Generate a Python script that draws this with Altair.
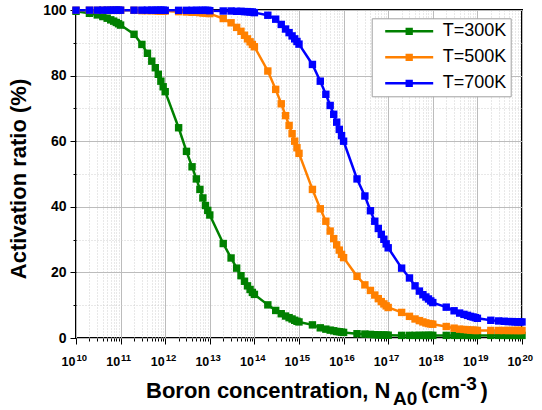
import altair as alt
import pandas as pd

FONT = "Liberation Sans"

# ---------------- data ----------------
MANTISSAS = [1, 2, 3, 4, 5, 6, 7, 8, 9]
DECADES = list(range(10, 20))
LAST_X = 1e20
X_VALUES = [m * 10.0 ** e for e in DECADES for m in MANTISSAS] + [LAST_X]
EXPONENTS = list(range(10, 21))

SERIES = ["T=300K", "T=500K", "T=700K"]
COLORS = ["#008000", "#ff8000", "#0000ff"]

T300 = [
    99.6, 99.0, 98.5, 98.0, 97.5, 97.0, 96.6, 96.2, 95.8,
    95.4, 92.6, 89.5, 86.8, 84.4, 82.4, 80.4, 78.3, 76.6,
    75.1, 64.1, 56.9, 52.2, 48.5, 45.3, 42.7, 40.4, 38.9,
    37.5, 28.8, 24.4, 21.3, 19.0, 17.3, 15.9, 14.8, 13.9,
    13.3, 10.1, 8.4, 7.4, 6.7, 6.2, 5.8, 5.4, 5.1,
    4.9, 4.0, 3.1, 2.7, 2.4, 2.2, 2.0, 1.9, 1.8,
    1.7, 1.3, 1.2, 1.1, 1.0, 0.95, 0.9, 0.9, 0.85,
    0.85, 0.8, 0.8, 0.8, 0.8, 0.8, 0.8, 0.8, 0.8,
    0.8, 0.8, 0.8, 0.8, 0.8, 0.8, 0.8, 0.8, 0.8,
    0.8, 0.8, 0.8, 0.8, 0.8, 0.8, 0.8, 0.8, 0.8,
    0.8,
]
T500 = [
    99.9, 99.9, 99.9, 99.9, 99.9, 99.9, 99.9, 99.9, 99.9,
    99.9, 99.9, 99.8, 99.8, 99.8, 99.8, 99.7, 99.7, 99.7,
    99.7, 99.5, 99.4, 99.3, 99.3, 99.2, 99.1, 99.1, 99.0,
    98.9, 97.4, 96.1, 94.7, 93.5, 92.3, 91.2, 90.3, 89.5,
    88.8, 81.4, 75.8, 71.4, 67.8, 64.8, 62.3, 60.0, 58.0,
    56.3, 45.3, 39.4, 35.6, 32.6, 30.3, 28.4, 26.8, 25.5,
    24.5, 18.8, 16.2, 14.5, 13.1, 12.0, 11.1, 10.4, 9.8,
    9.3, 7.8, 6.6, 5.8, 5.3, 4.9, 4.6, 4.4, 4.3,
    4.2, 3.5, 3.0, 2.7, 2.6, 2.5, 2.4, 2.4, 2.3,
    2.3, 2.3, 2.3, 2.3, 2.3, 2.3, 2.3, 2.3, 2.3,
    2.3,
]
T700 = [
    99.95, 99.95, 99.95, 99.95, 99.95, 99.95, 99.95, 99.95, 99.95,
    99.95, 99.95, 99.95, 99.95, 99.95, 99.95, 99.95, 99.95, 99.95,
    99.9, 99.9, 99.9, 99.9, 99.9, 99.9, 99.9, 99.9, 99.9,
    99.8, 99.7, 99.7, 99.6, 99.6, 99.5, 99.5, 99.4, 99.4,
    99.2, 98.4, 97.2, 95.6, 94.2, 93.1, 92.1, 91.2, 90.4,
    89.6, 83.4, 78.3, 74.3, 70.9, 68.2, 65.8, 63.6, 61.7,
    60.0, 48.5, 43.3, 38.8, 35.6, 33.4, 31.6, 30.1, 28.7,
    27.5, 21.3, 18.3, 15.9, 14.3, 13.2, 12.5, 11.9, 11.3,
    10.8, 9.4, 8.3, 7.6, 7.2, 6.9, 6.6, 6.4, 6.2,
    6.0, 5.4, 5.2, 5.1, 5.0, 5.0, 4.9, 4.9, 4.9,
    4.9,
]

rows = []
for name, vals in zip(SERIES, [T300, T500, T700]):
    for i, (xv, yv) in enumerate(zip(X_VALUES, vals)):
        rows.append({"x": xv, "y": yv, "series": name, "order": i})
df = pd.DataFrame(rows)

lab_df = pd.DataFrame({"x": [10.0 ** e for e in EXPONENTS],
                       "exp": [str(e) for e in EXPONENTS]})
one = pd.DataFrame({"a": [0]})

# ---------------- scales / axes ----------------
W, H = 446, 328
xscale = alt.Scale(type="log", domain=[1e10, 1e20], nice=False)
yscale = alt.Scale(domain=[0, 100], nice=False, zero=False)
color_scale = alt.Scale(domain=SERIES, range=COLORS)

is_decade = "abs(log(datum.value)/LN10 - round(log(datum.value)/LN10)) < 0.001"
is_major_y = "datum.value % 20 == 0"

xaxis = alt.Axis(
    values=X_VALUES, labels=False, title=None, domain=False,
    tickColor="black", tickWidth=1,
    tickSize={"condition": {"test": is_decade, "value": 6}, "value": 3},
    grid=True, gridWidth=1,
    gridColor={"condition": {"test": is_decade, "value": "#bcbcbc"}, "value": "#d0d0d0"},
    gridDash={"condition": {"test": is_decade, "value": []}, "value": [1, 2]},
)
yaxis = alt.Axis(
    values=list(range(0, 101, 10)), title=None, domain=False,
    tickColor="black", tickWidth=1,
    tickSize={"condition": {"test": is_major_y, "value": 6}, "value": 3},
    labelExpr="datum.value % 20 == 0 ? datum.label : ''",
    labelFont=FONT, labelFontSize=14, labelFontWeight="bold", labelColor="black",
    labelPadding=4, labelOverlap=False,
    grid=True, gridWidth=1,
    gridColor={"condition": {"test": is_major_y, "value": "#bcbcbc"}, "value": "#d0d0d0"},
    gridDash={"condition": {"test": is_major_y, "value": []}, "value": [1, 2]},
)

# legend glyph: line with a small filled square in the middle
SYM = "M-4,0H4M-0.4,-0.4H0.4V0.4H-0.4Z"
legend = alt.Legend(
    title=None, orient="none", legendX=295.7, legendY=8.3,
    symbolType=SYM, symbolSize=144, symbolStrokeWidth=2.5, symbolOffset=24.5,
    labelFont=FONT, labelFontSize=18, labelOffset=24.5, labelColor="black",
    rowPadding=8, padding=4, strokeColor="#a0a0a0", fillColor="white",
    labelLimit=200,
)

X_ENC = alt.X("x:Q", scale=xscale, axis=xaxis)
Y_ENC = alt.Y("y:Q", scale=yscale, axis=yaxis)

lines = alt.Chart(df).mark_line(strokeWidth=2.5).encode(
    x=X_ENC, y=Y_ENC,
    color=alt.Color("series:N", scale=color_scale, legend=legend),
    order="order:Q",
)
points = alt.Chart(df).mark_square(size=55, opacity=1, filled=True).encode(
    x=X_ENC, y=Y_ENC,
    color=alt.Color("series:N", scale=color_scale, legend=legend),
)

base10 = alt.Chart(lab_df).mark_text(
    text="10", align="right", baseline="alphabetic", dx=-0.5,
    font=FONT, fontSize=12.5, fontWeight="bold", color="black",
).encode(x=X_ENC, y=alt.value(356))
expo = alt.Chart(lab_df).mark_text(
    align="left", baseline="alphabetic", dx=0.5,
    font=FONT, fontSize=9.5, fontWeight="bold", color="black",
).encode(x=X_ENC, y=alt.value(351), text="exp:N")


def txt(s, x, y, size, **kw):
    return alt.Chart(one).mark_text(
        text=s, align="left", baseline="alphabetic", font=FONT,
        fontSize=size, fontWeight="bold", color="black", **kw,
    ).encode(x=alt.value(x), y=alt.value(y))


t1 = txt("Boron concentration, N", 70, 388, 22)
t2 = txt("A0", 317, 395, 19)
t3 = txt("(cm", 345, 388, 22)
t4 = txt("-3", 384, 380, 19)
t5 = txt(")", 404.5, 388, 22)
ytitle = alt.Chart(one).mark_text(
    text="Activation ratio (%)", align="center", baseline="alphabetic", angle=270,
    font=FONT, fontSize=22, fontWeight="bold", color="black",
).encode(x=alt.value(-50), y=alt.value(169))

chart = alt.layer(
    lines, points, base10, expo, t1, t2, t3, t4, t5, ytitle
).properties(
    width=W, height=H,
    background="white",
    autosize=alt.AutoSizeParams(type="none"),
    padding={"left": 76, "top": 10, "right": 20, "bottom": 72},
).configure(
    font=FONT,
).configure_view(
    stroke="black", strokeWidth=2,
)

chart.save("out.html", embed_options={"renderer": "svg", "actions": False})
